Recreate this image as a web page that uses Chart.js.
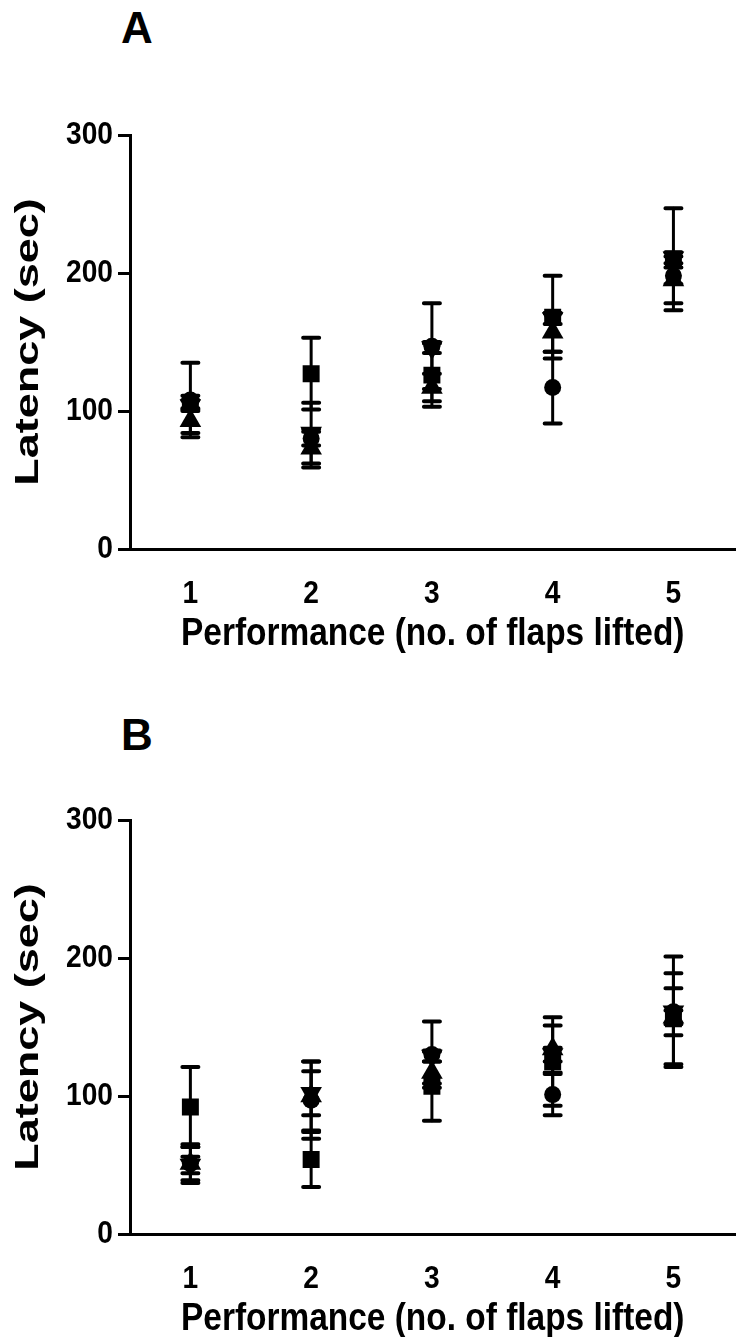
<!DOCTYPE html>
<html><head><meta charset="utf-8">
<script src="https://cdn.jsdelivr.net/npm/chart.js@4.4.1/dist/chart.umd.min.js"></script>
<style>
html,body{margin:0;padding:0;background:#fff;width:738px;height:1337px;overflow:hidden;position:relative;font-family:'Liberation Sans',Arial,sans-serif;}
.panel{position:absolute;left:0;width:748px;height:668px;}
.letter{position:absolute;font-weight:bold;font-size:44px;line-height:1;color:#000;font-family:'Liberation Sans',Arial,sans-serif;}
</style></head><body>
<div class="letter" style="left:121px;top:6px">A</div>
<div class="letter" style="left:121px;top:713px">B</div>
<div class="panel" style="top:0"><canvas id="cA" width="748" height="668"></canvas></div>
<div class="panel" style="top:685px"><canvas id="cB" width="748" height="668"></canvas></div>
<script>
const xValues = [1, 2, 3, 4, 5];
const tickLabels = ['1', '2', '3', '4', '5'];
const yTicks = [0, 100, 200, 300];
const xTitle = 'Performance (no. of flaps lifted)';
const yTitle = 'Latency (sec)';

// Panel A (mean, error)
const A_circle = [108, 80, 147, 117, 198];
const A_circle_err = [27, 5, 31, 26, 6];
const A_square = [106, 127, 126, 168, 210];
const A_square_err = [5, 26, 23, 30, 37];
const A_triUp = [93, 73, 117, 157, 195];
const A_triUp_err = [9, 14, 10, 14, 17];
const A_triDown = [104, 84, 146, 167, 211];
const A_triDown_err = [4, 22, 4, 4, 4];

// Panel B (mean, error)
const B_circle = [51, 97, 130, 101, 161];
const B_circle_err = [14, 28, 24, 15, 40];
const B_square = [92, 54, 107, 125, 156];
const B_square_err = [29, 20, 25, 32, 33];
const B_triUp = [51, 100, 117, 134, 157];
const B_triUp_err = [12, 25, 8, 17, 5];
const B_triDown = [50, 102, 129, 130, 161];
const B_triDown_err = [6, 16, 4, 5, 17];

const FAM = "'Liberation Sans', Arial, sans-serif";
const SQUEEZE_H = 0.88; // horizontal text compression seen in the reference
const SQUEEZE_V = 0.74; // thickness compression of the rotated axis title

const squeezeText = {
  id: 'squeezeText',
  beforeInit(chart) {
    const ctx = chart.ctx;
    const orig = ctx.fillText;
    ctx.fillText = function (t, x, y, mw) {
      const m = this.getTransform();
      const rotated = Math.abs(m.b) > 0.01;
      const p = m.transformPoint(new DOMPoint(x, y));
      const s = new DOMMatrix().translate(p.x, p.y).scale(rotated ? SQUEEZE_V : SQUEEZE_H, 1).translate(-p.x, -p.y).multiply(m);
      this.save();
      this.setTransform(s);
      orig.call(this, t, x, y);
      this.restore();
    };
  }
};

const errorBarPlugin = {
  id: 'errbars',
  beforeDatasetsDraw(chart) {
    const ctx = chart.ctx, xs = chart.scales.x, ys = chart.scales.y;
    ctx.save();
    ctx.strokeStyle = '#000';
    ctx.lineCap = 'round';
    chart.data.datasets.forEach(ds => {
      ds.data.forEach((p, i) => {
        const e = ds.err[i];
        const px = xs.getPixelForValue(p.x);
        const yT = ys.getPixelForValue(p.y + e);
        const yB = ys.getPixelForValue(p.y - e);
        ctx.lineWidth = 3;
        ctx.beginPath(); ctx.moveTo(px, yT); ctx.lineTo(px, yB); ctx.stroke();
        ctx.lineWidth = 4;
        ctx.beginPath();
        ctx.moveTo(px - 8, yT); ctx.lineTo(px + 8, yT);
        ctx.moveTo(px - 8, yB); ctx.lineTo(px + 8, yB);
        ctx.stroke();
      });
    });
    ctx.restore();
  }
};

function series(vals, err, style, r, rot) {
  return {
    data: xValues.map((x, i) => ({x: x, y: vals[i]})),
    err: err,
    pointStyle: style,
    pointRotation: rot || 0,
    pointRadius: r,
    pointHoverRadius: r,
    backgroundColor: '#000',
    borderColor: '#000',
    borderWidth: 0,
    showLine: false
  };
}

function makeChart(id, sets) {
  return new Chart(document.getElementById(id), {
    type: 'scatter',
    data: {datasets: sets},
    options: {
      responsive: false,
      animation: false,
      devicePixelRatio: 1,
      layout: {padding: {top: 135, left: 0, right: 0, bottom: 0}},
      plugins: {legend: {display: false}, tooltip: {enabled: false}, title: {display: false}},
      scales: {
        x: {
          type: 'linear', min: 0.5, max: 5.514,
          afterBuildTicks: s => { s.ticks = xValues.map(v => ({value: v})); },
          afterFit: s => { s.height = 119; },
          grid: {display: false, drawTicks: false},
          border: {display: true, width: 3, color: '#000'},
          ticks: {color: '#000', padding: 26, font: {family: FAM, size: 32, weight: 'bold'},
                  callback: v => tickLabels[xValues.indexOf(v)]},
          title: {display: true, text: xTitle, color: '#000', font: {family: FAM, size: 38, weight: 'bold'},
                  padding: {top: 0, bottom: 11}}
        },
        y: {
          type: 'linear', min: 0, max: 300,
          afterBuildTicks: s => { s.ticks = yTicks.map(v => ({value: v})); },
          afterFit: s => { s.width = 130; },
          grid: {drawOnChartArea: false, drawTicks: true, tickLength: 12, color: '#000', lineWidth: 3},
          border: {display: true, width: 3, color: '#000'},
          ticks: {color: '#000', padding: 5, font: {family: FAM, size: 32, weight: 'bold'}},
          title: {display: true, text: yTitle, color: '#000', font: {family: FAM, size: 45, weight: 'bold'},
                  padding: {top: 2, bottom: 0}}
        }
      }
    },
    plugins: [squeezeText, errorBarPlugin]
  });
}

makeChart('cA', [
  series(A_circle, A_circle_err, 'circle', 8.5),
  series(A_square, A_square_err, 'rect', 12),
  series(A_triUp, A_triUp_err, 'triangle', 12.5),
  series(A_triDown, A_triDown_err, 'triangle', 12.5, 180)
]);
makeChart('cB', [
  series(B_circle, B_circle_err, 'circle', 8.5),
  series(B_square, B_square_err, 'rect', 12),
  series(B_triUp, B_triUp_err, 'triangle', 12.5),
  series(B_triDown, B_triDown_err, 'triangle', 12.5, 180)
]);
</script>
</body></html>
